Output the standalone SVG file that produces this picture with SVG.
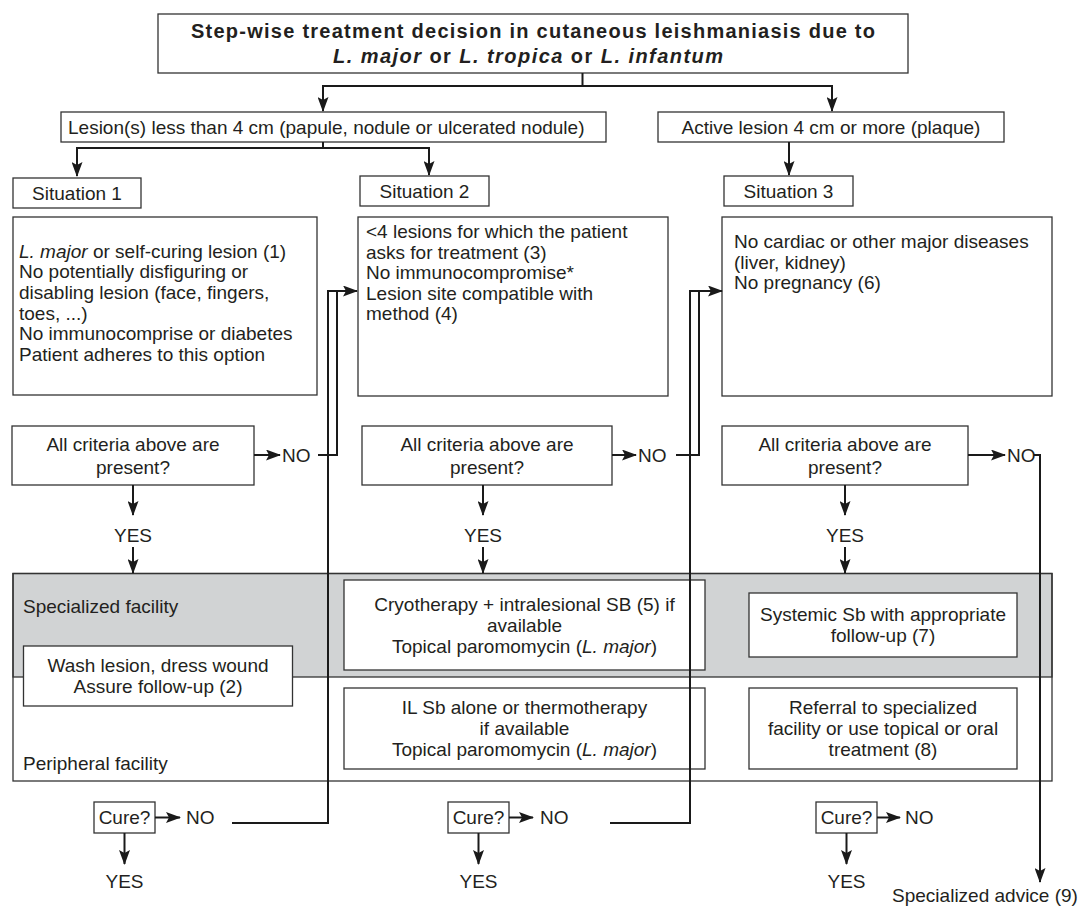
<svg xmlns="http://www.w3.org/2000/svg" width="1084" height="911" viewBox="0 0 1084 911">
<defs>
<style>
.box{fill:#fff;stroke:#333;stroke-width:1.3}
.t{font-family:"Liberation Sans",Arial,sans-serif;font-size:19px;fill:#231f20}
.b{font-weight:bold;font-size:20px}
.c{text-anchor:middle}
.i{font-style:italic}
.ln{fill:none;stroke:#1a1a1a;stroke-width:2}
.ar{marker-end:url(#ah)}
</style>
<marker id="ah" markerUnits="userSpaceOnUse" markerWidth="15" markerHeight="11" refX="14" refY="5.5" orient="auto">
<path d="M0,0 L15,5.5 L0,11 L3,5.5 z" fill="#1a1a1a"/>
</marker>
</defs>
<rect width="1084" height="911" fill="#fff"/>

<g id="facility-band">
<rect x="13" y="573.5" width="1039" height="103.5" fill="#d1d3d4" stroke="#333" stroke-width="1.3"/>
<rect x="13" y="573.5" width="1039" height="207.5" fill="none" stroke="#333" stroke-width="1.3"/>
<text class="t" x="23" y="613">Specialized facility</text>
<text class="t" x="23" y="770">Peripheral facility</text>
</g>

<g id="title">
<rect class="box" x="158" y="14" width="750" height="59"/>
<text class="t b c" x="533" y="38" textLength="684" lengthAdjust="spacing">Step-wise treatment decision in cutaneous leishmaniasis due to</text>
<text class="t b c" x="528" y="63" textLength="390" lengthAdjust="spacing"><tspan class="i">L. major</tspan> or <tspan class="i">L. tropica</tspan> or <tspan class="i">L. infantum</tspan></text>
</g>

<g id="lesion-small">
<rect class="box" x="61" y="112" width="545" height="30"/>
<text class="t" x="68" y="133.5">Lesion(s) less than 4 cm (papule, nodule or ulcerated nodule)</text>
</g>
<g id="lesion-large">
<rect class="box" x="658" y="112" width="346" height="30"/>
<text class="t c" x="831" y="133.5">Active lesion 4 cm or more (plaque)</text>
</g>

<g id="situation1">
<rect class="box" x="13" y="178" width="128" height="30"/>
<text class="t c" x="77" y="199.5">Situation 1</text>
</g>
<g id="situation2">
<rect class="box" x="360" y="176" width="129" height="30"/>
<text class="t c" x="424.5" y="197.5">Situation 2</text>
</g>
<g id="situation3">
<rect class="box" x="724" y="176" width="129" height="30"/>
<text class="t c" x="788.5" y="197.5">Situation 3</text>
</g>

<g id="criteria1">
<rect class="box" x="13" y="217" width="304" height="178"/>
<text class="t" x="19" y="257.5"><tspan class="i">L. major</tspan> or self-curing lesion (1)</text>
<text class="t" x="19" y="278.2">No potentially disfiguring or</text>
<text class="t" x="19" y="298.9">disabling lesion (face, fingers,</text>
<text class="t" x="19" y="319.6">toes, ...)</text>
<text class="t" x="19" y="340.3">No immunocomprise or diabetes</text>
<text class="t" x="19" y="361">Patient adheres to this option</text>
</g>
<g id="criteria2">
<rect class="box" x="358" y="217" width="310" height="179"/>
<text class="t" x="366" y="238">&lt;4 lesions for which the patient</text>
<text class="t" x="366" y="258.5">asks for treatment (3)</text>
<text class="t" x="366" y="279">No immunocompromise*</text>
<text class="t" x="366" y="299.5">Lesion site compatible with</text>
<text class="t" x="366" y="320">method (4)</text>
</g>
<g id="criteria3">
<rect class="box" x="722" y="217" width="330" height="179"/>
<text class="t" x="734" y="248">No cardiac or other major diseases</text>
<text class="t" x="734" y="268.5">(liver, kidney)</text>
<text class="t" x="734" y="289">No pregnancy (6)</text>
</g>

<g id="question1">
<rect class="box" x="12" y="426" width="242" height="59"/>
<text class="t c" x="133" y="451">All criteria above are</text>
<text class="t c" x="133" y="473.5">present?</text>
</g>
<g id="question2">
<rect class="box" x="362" y="426" width="250" height="59"/>
<text class="t c" x="487" y="451">All criteria above are</text>
<text class="t c" x="487" y="473.5">present?</text>
</g>
<g id="question3">
<rect class="box" x="722" y="426" width="246" height="59"/>
<text class="t c" x="845" y="451">All criteria above are</text>
<text class="t c" x="845" y="473.5">present?</text>
</g>

<g id="labels">
<text class="t c" x="133" y="541.5">YES</text>
<text class="t c" x="483" y="541.5">YES</text>
<text class="t c" x="845" y="541.5">YES</text>
<text class="t" x="282" y="461.5">NO</text>
<text class="t" x="638" y="461.5">NO</text>
<text class="t" x="1007" y="461.5">NO</text>
<text class="t" x="186" y="823.5">NO</text>
<text class="t" x="540" y="823.5">NO</text>
<text class="t" x="905" y="823.5">NO</text>
<text class="t c" x="124.5" y="888">YES</text>
<text class="t c" x="478.5" y="888">YES</text>
<text class="t c" x="846.5" y="888">YES</text>
<text class="t c" x="985" y="902">Specialized advice (9)</text>
</g>

<g id="wash">
<rect class="box" x="23.5" y="646" width="269" height="60"/>
<text class="t c" x="158" y="672">Wash lesion, dress wound</text>
<text class="t c" x="158" y="693">Assure follow-up (2)</text>
</g>
<g id="cryo">
<rect class="box" x="344" y="580" width="361" height="90"/>
<text class="t c" x="524.5" y="610.5">Cryotherapy + intralesional SB (5) if</text>
<text class="t c" x="524.5" y="631.5">available</text>
<text class="t c" x="524.5" y="652.5">Topical paromomycin (<tspan class="i">L. major</tspan>)</text>
</g>
<g id="ilsb">
<rect class="box" x="344" y="688" width="361" height="81"/>
<text class="t c" x="524.5" y="714">IL Sb alone or thermotherapy</text>
<text class="t c" x="524.5" y="735">if available</text>
<text class="t c" x="524.5" y="756">Topical paromomycin (<tspan class="i">L. major</tspan>)</text>
</g>
<g id="systemic">
<rect class="box" x="749" y="593" width="268" height="64"/>
<text class="t c" x="883" y="621">Systemic Sb with appropriate</text>
<text class="t c" x="883" y="642">follow-up (7)</text>
</g>
<g id="referral">
<rect class="box" x="749" y="688" width="268" height="81"/>
<text class="t c" x="883" y="714">Referral to specialized</text>
<text class="t c" x="883" y="735">facility or use topical or oral</text>
<text class="t c" x="883" y="756">treatment (8)</text>
</g>

<g id="cure1">
<rect class="box" x="94" y="802" width="61" height="31"/>
<text class="t c" x="124.5" y="824">Cure?</text>
</g>
<g id="cure2">
<rect class="box" x="448" y="802" width="61" height="31"/>
<text class="t c" x="478.5" y="824">Cure?</text>
</g>
<g id="cure3">
<rect class="box" x="816" y="802" width="61" height="31"/>
<text class="t c" x="846.5" y="824">Cure?</text>
</g>

<g id="connectors">
<path class="ln ar" d="M582.5,73 V86 H323 V111"/>
<path class="ln ar" d="M582.5,86 H832 V111"/>
<path class="ln ar" d="M323,142 V148 H77 V176"/>
<path class="ln ar" d="M323,148 H429 V175"/>
<path class="ln ar" d="M789,142 V175"/>
<path class="ln ar" d="M133,485 V515"/>
<path class="ln ar" d="M133,547 V573"/>
<path class="ln ar" d="M483,485 V515"/>
<path class="ln ar" d="M483,547 V573"/>
<path class="ln ar" d="M845,485 V515"/>
<path class="ln ar" d="M845,547 V573"/>
<path class="ln ar" d="M254,455 H280"/>
<path class="ln ar" d="M612,455 H636"/>
<path class="ln ar" d="M968,455 H1005"/>
<path class="ln" d="M318,455 H337 V291"/>
<path class="ln ar" d="M232,823 H328 V291 H357"/>
<path class="ln" d="M676,455 H699 V291"/>
<path class="ln ar" d="M610,823 H690 V291 H722"/>
<path class="ln ar" d="M1034,455 H1040 V882"/>
<path class="ln ar" d="M155,817.5 H180"/>
<path class="ln ar" d="M124.5,833 V864"/>
<path class="ln ar" d="M509,817.5 H533"/>
<path class="ln ar" d="M478.5,833 V864"/>
<path class="ln ar" d="M877,817.5 H900"/>
<path class="ln ar" d="M846.5,833 V864"/>
</g>
</svg>
